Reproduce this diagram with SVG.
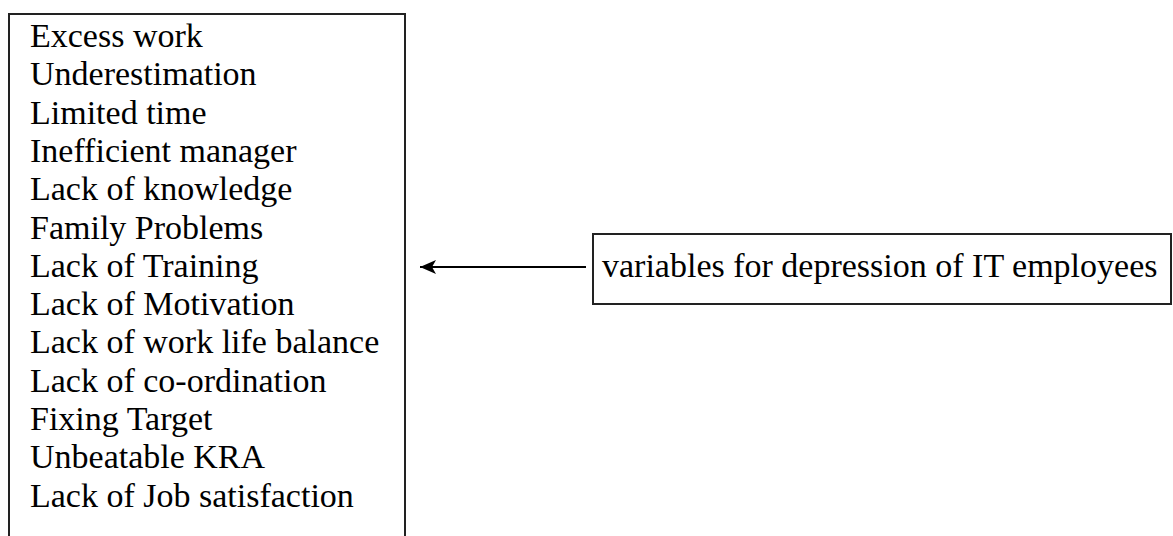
<svg xmlns="http://www.w3.org/2000/svg" width="1173" height="536" viewBox="0 0 1173 536">
<style>
.box{fill:#fff;stroke:#222;stroke-width:2}
.t{font-family:"Liberation Serif","Times New Roman",serif;font-size:34px;fill:#000}
.conn{stroke:#000;stroke-width:2;fill:none}
</style>
<defs>
<marker id="ah" markerWidth="16" markerHeight="14" refX="16" refY="7" orient="auto" markerUnits="userSpaceOnUse">
<path d="M0,0 L16,7 L0,14 L4,7 Z" fill="#000"/>
</marker>
</defs>
<rect width="1173" height="536" fill="#fff"/>
<g id="variables-list">
<rect class="box" x="9" y="14" width="396" height="540"/>
<text class="t" x="30" y="47">Excess work</text>
<text class="t" x="30" y="85.3">Underestimation</text>
<text class="t" x="30" y="123.6">Limited time</text>
<text class="t" x="30" y="161.9">Inefficient manager</text>
<text class="t" x="30" y="200.2">Lack of knowledge</text>
<text class="t" x="30" y="238.5">Family Problems</text>
<text class="t" x="30" y="276.8">Lack of Training</text>
<text class="t" x="30" y="315.1">Lack of Motivation</text>
<text class="t" x="30" y="353.4">Lack of work life balance</text>
<text class="t" x="30" y="391.7">Lack of co-ordination</text>
<text class="t" x="30" y="430">Fixing Target</text>
<text class="t" x="30" y="468.3">Unbeatable KRA</text>
<text class="t" x="30" y="506.6">Lack of Job satisfaction</text>
</g>
<g id="depression-variables">
<rect class="box" x="593" y="234" width="578" height="70"/>
<text class="t" x="602" y="277">variables for depression of IT employees</text>
</g>
<g id="connectors">
<line class="conn" x1="586" y1="267" x2="420" y2="267" marker-end="url(#ah)"/>
</g>
</svg>
